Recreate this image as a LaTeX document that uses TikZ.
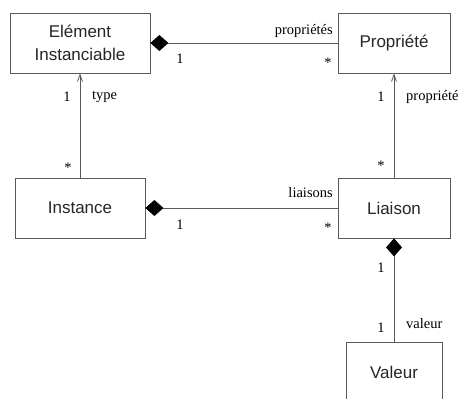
\documentclass[tikz,border=0pt]{standalone}
\usepackage{fontspec}
\setmainfont{Liberation Serif}
\newfontfamily\boxfont{Liberation Sans}
\usetikzlibrary{arrows.meta}
\begin{document}
\begin{tikzpicture}[x=1pt,y=-1pt,
  cls/.style={draw=black!65,line width=0.8pt,fill=white,inner sep=0pt,
    text=black!85,font=\boxfont\fontsize{17}{23}\selectfont,align=center},
  lbl/.style={inner sep=0pt,font=\fontsize{14.5}{16}\selectfont},
  conn/.style={draw=black!65,line width=0.8pt},
  comp/.style={conn,{Diamond[length=18pt,width=16pt,fill=black,color=black]}-},
  gen/.style={conn,-{Straight Barb[length=7pt,width=5pt]}}]
\useasboundingbox (0,0) rectangle (462,398);
\clip (0,0) rectangle (462,398);
\node[cls,minimum width=140pt,minimum height=60pt] (ei) at (80,43) {Elément\\Instanciable};
\node[cls,minimum width=112pt,minimum height=60pt] (prop) at (394,43) {Propriété};
\node[cls,minimum width=130pt,minimum height=60pt] (inst) at (80,208) {Instance};
\node[cls,minimum width=112pt,minimum height=60pt] (lia) at (394,208) {Liaison};
\node[cls,minimum width=96pt,minimum height=60pt] (val) at (394,372) {Valeur};
\draw[comp] (ei.east) -- (prop.west);
\draw[gen] (inst.north) -- (ei.south);
\draw[gen] (lia.north) -- (prop.south);
\draw[comp] (inst.east) -- (lia.west);
\draw[comp] (lia.south) -- (val.north);
\node[lbl] (l1) at (180,59) {1};
\node[lbl,anchor=east] (l2) at (333,31) {propriétés};
\node[lbl] (l3) at (328,63) {*};
\node[lbl] (l4) at (67,97) {1};
\node[lbl,anchor=west] (l5) at (92,97) {type};
\node[lbl] (l6) at (68,168) {*};
\node[lbl] (l7) at (381,97) {1};
\node[lbl,anchor=west] (l8) at (406,97) {propriété};
\node[lbl] (l9) at (381,166) {*};
\node[lbl,anchor=east] (l10) at (333,193) {liaisons};
\node[lbl] (l11) at (328,228) {*};
\node[lbl] (l12) at (180,225) {1};
\node[lbl] (l13) at (381,268) {1};
\node[lbl] (l14) at (381,328) {1};
\node[lbl,anchor=west] (l15) at (406,324) {valeur};
\end{tikzpicture}
\end{document}
